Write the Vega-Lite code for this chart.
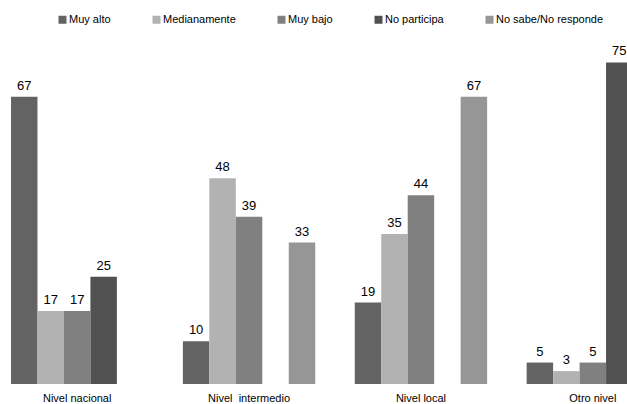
{
  "$schema": "https://vega.github.io/schema/vega-lite/v6.json",
  "autosize": {"type": "none"},
  "width": 627,
  "height": 343,
  "padding": {"left": 0, "top": 41, "right": 0, "bottom": 20},
  "background": "white",
  "config": {"view": {"stroke": null}, "font": "Liberation Sans"},
  "data": {"values": [
    {"nivel": "Nivel nacional", "serie": "Muy alto", "valor": 67},
    {"nivel": "Nivel nacional", "serie": "Medianamente", "valor": 17},
    {"nivel": "Nivel nacional", "serie": "Muy bajo", "valor": 17},
    {"nivel": "Nivel nacional", "serie": "No participa", "valor": 25},
    {"nivel": "Nivel  intermedio", "serie": "Muy alto", "valor": 10},
    {"nivel": "Nivel  intermedio", "serie": "Medianamente", "valor": 48},
    {"nivel": "Nivel  intermedio", "serie": "Muy bajo", "valor": 39},
    {"nivel": "Nivel  intermedio", "serie": "No sabe/No responde", "valor": 33},
    {"nivel": "Nivel local", "serie": "Muy alto", "valor": 19},
    {"nivel": "Nivel local", "serie": "Medianamente", "valor": 35},
    {"nivel": "Nivel local", "serie": "Muy bajo", "valor": 44},
    {"nivel": "Nivel local", "serie": "No sabe/No responde", "valor": 67},
    {"nivel": "Otro nivel", "serie": "Muy alto", "valor": 5},
    {"nivel": "Otro nivel", "serie": "Medianamente", "valor": 3},
    {"nivel": "Otro nivel", "serie": "Muy bajo", "valor": 5},
    {"nivel": "Otro nivel", "serie": "No participa", "valor": 75}
  ]},
  "encoding": {
    "x": {
      "field": "nivel", "type": "nominal",
      "sort": ["Nivel nacional", "Nivel  intermedio", "Nivel local", "Otro nivel"],
      "scale": {"range": [0, 670], "paddingInner": 0.23, "paddingOuter": 0.064},
      "axis": {"title": null, "domain": false, "ticks": false, "labelAngle": 0, "labelPadding": 8, "labelFontSize": 11, "labelColor": "#000000", "labelFont": "Liberation Sans", "labelExpr": "replace(datum.label, '  ', ' \u00a0')"}
    },
    "xOffset": {
      "field": "serie", "type": "nominal",
      "scale": {"domain": ["Muy alto", "Medianamente", "Muy bajo", "No participa", "No sabe/No responde"], "paddingInner": 0, "paddingOuter": 0}
    },
    "y": {
      "field": "valor", "type": "quantitative",
      "scale": {"domain": [0, 80], "nice": false},
      "axis": null
    }
  },
  "layer": [
    {
      "mark": {"type": "bar", "clip": true},
      "encoding": {
        "color": {
          "field": "serie", "type": "nominal",
          "scale": {"domain": ["Muy alto", "Medianamente", "Muy bajo", "No participa", "No sabe/No responde"], "range": ["#636363", "#b2b2b2", "#808080", "#515151", "#969696"]},
          "legend": {
            "title": null, "orient": "none", "direction": "horizontal", "columns": 5,
            "legendX": 57, "legendY": -27,
            "symbolType": "square", "symbolSize": 64, "symbolStrokeWidth": 0,
            "labelOffset": 1, "columnPadding": 40, "labelFontSize": 11, "labelColor": "#000000", "labelFont": "Liberation Sans"
          }
        }
      }
    },
    {
      "mark": {"type": "text", "baseline": "alphabetic", "dy": -7, "fontSize": 13, "color": "#000000", "font": "Liberation Sans"},
      "encoding": {"text": {"field": "valor", "type": "quantitative"}}
    }
  ]
}
